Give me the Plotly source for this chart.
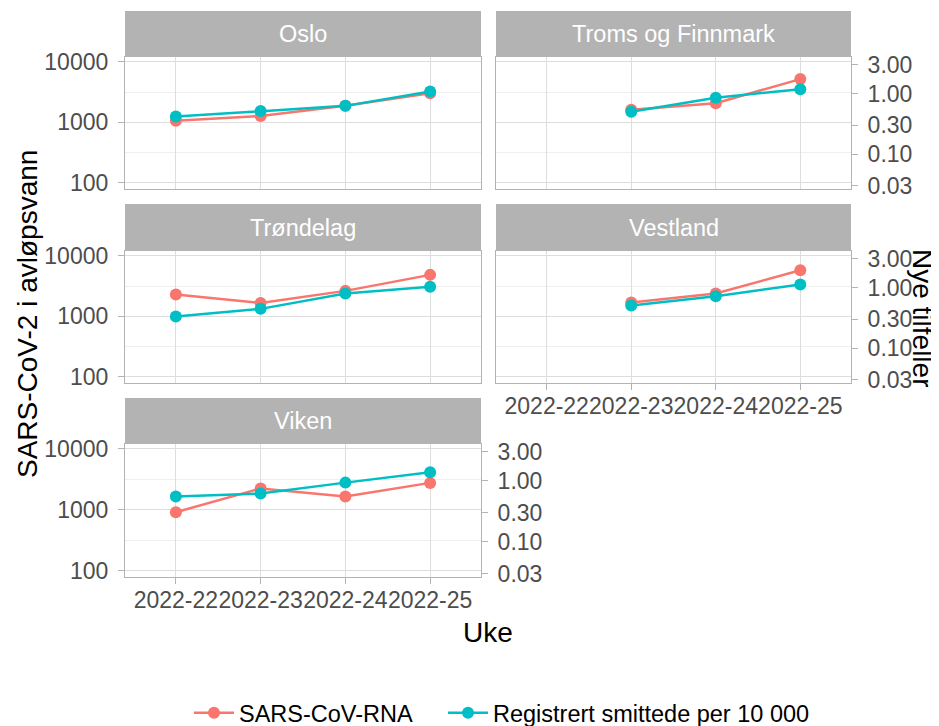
import math
import plotly.graph_objects as go

weeks = ["2022-22", "2022-23", "2022-24", "2022-25"]
regions = ["Oslo", "Troms og Finnmark", "Trøndelag", "Vestland", "Viken"]

rna_oslo = [1060, 1280, 1875, 3040]
rna_troms = [None, 1615, 2080, 5190]
rna_trondelag = [2300, 1670, 2640, 4850]
rna_vestland = [None, 1695, 2390, 5800]
rna_viken = [917, 2240, 1655, 2770]

cases_oslo = [0.416, 0.516, 0.625, 1.08]
cases_troms = [None, 0.499, 0.85, 1.18]
cases_trondelag = [0.333, 0.444, 0.796, 1.03]
cases_vestland = [None, 0.504, 0.718, 1.12]
cases_viken = [0.552, 0.618, 0.933, 1.38]

left_ticks = [100, 1000, 10000]
left_minor = [316.2278, 3162.278]
right_ticks = [0.03, 0.1, 0.3, 1, 3]
right_ticktext = ["0.03", "0.10", "0.30", "1.00", "3.00"]
scale_factor = 3000  # secondary axis = primary / scale_factor

rna = [rna_oslo, rna_troms, rna_trondelag, rna_vestland, rna_viken]
cases = [cases_oslo, cases_troms, cases_trondelag, cases_vestland, cases_viken]

RED = "#F8766D"
TEAL = "#00BFC4"
FONT = "Liberation Sans, Arial, sans-serif"
TICKCOL = "#4D4D4D"
BORDER = "#B3B3B3"
GRID = "#DEDEDE"
MINOR = "#EFEFEF"
TICKSIZE = 23

# page body has an 8px default margin: shrink the figure so it fits the window
OFF = 8
W, H = 939 - OFF, 726 - OFF
def px(x): return (x - OFF) / W
def py(y): return 1 - (y - OFF) / H

cols = [(125, 481), (496, 851)]
rows = [((11, 57), (57, 189)), ((204, 251), (251, 383)), ((398, 444), (444, 577))]
pos = [(0, 0), (0, 1), (1, 0), (1, 1), (2, 0)]
show_x = [False, False, False, True, True]
show_left = [True, False, True, False, True]
show_right = [False, True, False, True, True]

yr = [1.9, 4.08]
yr2 = [v - math.log10(scale_factor) for v in yr]

fig = go.Figure()
leg_common = dict(orientation="h", xanchor="left", y=py(713), yanchor="middle",
                  font=dict(size=23.5, color="black", family=FONT), itemwidth=40,
                  bgcolor="rgba(0,0,0,0)")
layout = dict(
    width=W, height=H,
    margin=dict(l=0, r=0, t=0, b=0, autoexpand=False),
    paper_bgcolor="white", plot_bgcolor="white",
    font=dict(family=FONT, size=22, color="black"),
    showlegend=True,
    legend=dict(x=px(189), **leg_common),
    legend2=dict(x=px(443), **leg_common),
    shapes=[], annotations=[],
)

for i, reg in enumerate(regions):
    r, c = pos[i]
    (sy0, sy1), (py0, py1) = rows[r]
    cx0, cx1 = cols[c]
    n = i + 1
    xa = "x" if n == 1 else f"x{n}"
    ya = "y" if n == 1 else f"y{n}"
    ya2 = f"y{n + 5}"
    layout[f"xaxis{'' if n == 1 else n}"] = dict(
        domain=[px(cx0), px(cx1)], anchor=ya, type="category",
        categoryorder="array", categoryarray=weeks, range=[-0.6, 3.6],
        showgrid=True, gridcolor=GRID, gridwidth=1, automargin=False,
        showline=True, linecolor=BORDER, linewidth=1.2, mirror=True,
        ticks="outside" if show_x[i] else "", ticklen=6, tickcolor=BORDER,
        showticklabels=show_x[i], tickfont=dict(size=TICKSIZE, color=TICKCOL, family=FONT),
        ticklabelstandoff=-4, zeroline=False, fixedrange=True, tickangle=0,
    )
    layout[f"yaxis{'' if n == 1 else n}"] = dict(
        domain=[py(py1), py(py0)], anchor=xa, type="log", range=yr,
        tickvals=left_ticks, ticktext=[str(v) for v in left_ticks],
        showgrid=True, gridcolor=GRID, gridwidth=1, automargin=False,
        minor=dict(tickvals=left_minor, showgrid=True, gridcolor=MINOR, gridwidth=1, ticks=""),
        showline=True, linecolor=BORDER, linewidth=1.2, mirror=True,
        ticks="outside" if show_left[i] else "", ticklen=6, tickcolor=BORDER,
        showticklabels=show_left[i], tickfont=dict(size=TICKSIZE, color=TICKCOL, family=FONT),
        ticklabelstandoff=5, zeroline=False, fixedrange=True,
    )
    layout[f"yaxis{n + 5}"] = dict(
        overlaying=ya, anchor=xa, side="right", type="log", range=yr2,
        tickvals=right_ticks, ticktext=right_ticktext, showgrid=False, automargin=False,
        showline=False, ticks="outside" if show_right[i] else "", ticklen=6, tickcolor=BORDER,
        showticklabels=show_right[i], tickfont=dict(size=TICKSIZE, color=TICKCOL, family=FONT),
        ticklabelstandoff=5, zeroline=False, fixedrange=True,
    )
    fig.add_trace(go.Scatter(
        x=weeks, y=rna[i], xaxis=xa, yaxis=ya, mode="lines+markers",
        name="SARS-CoV-RNA", legendgroup="rna", showlegend=(i == 0), legend="legend",
        line=dict(color=RED, width=2.5), marker=dict(color=RED, size=12),
    ))
    fig.add_trace(go.Scatter(
        x=weeks, y=cases[i], xaxis=xa, yaxis=ya2, mode="lines+markers",
        name="Registrert smittede per 10 000", legendgroup="cases", showlegend=(i == 0),
        legend="legend2",
        line=dict(color=TEAL, width=2.5), marker=dict(color=TEAL, size=12),
    ))
    layout["shapes"].append(dict(
        type="rect", xref="paper", yref="paper", x0=px(cx0), x1=px(cx1),
        y0=py(sy1), y1=py(sy0), fillcolor=BORDER, line=dict(width=0), layer="above"))
    layout["annotations"].append(dict(
        text=reg, xref="paper", yref="paper", x=px((cx0 + cx1) / 2), y=py((sy0 + sy1) / 2),
        xanchor="center", yanchor="middle", showarrow=False,
        font=dict(size=23.5, color="white", family=FONT)))

layout["annotations"] += [
    dict(text="SARS-CoV-2 i avløpsvann", xref="paper", yref="paper", x=px(27), y=py(314),
         textangle=-90, showarrow=False, xanchor="center", yanchor="middle",
         font=dict(size=28, color="black", family=FONT)),
    dict(text="Nye tilfeller", xref="paper", yref="paper", x=px(922), y=py(318),
         textangle=90, showarrow=False, xanchor="center", yanchor="middle",
         font=dict(size=28, color="black", family=FONT)),
    dict(text="Uke", xref="paper", yref="paper", x=px(488), y=py(632),
         showarrow=False, xanchor="center", yanchor="middle",
         font=dict(size=28, color="black", family=FONT)),
]

fig.update_layout(**layout)
fig.write_html("out.html")
